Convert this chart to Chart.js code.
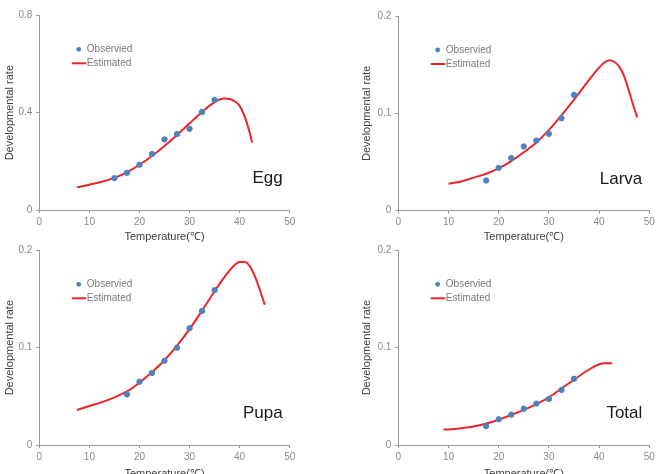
<!DOCTYPE html>
<html>
<head>
<meta charset="utf-8">
<script src="https://cdn.jsdelivr.net/npm/chart.js@4/dist/chart.umd.min.js"></script>
<style>
  html, body { margin: 0; padding: 0; background: #fff; overflow: hidden; }
  #wrap { position: relative; width: 658px; height: 474px; overflow: hidden; }
  .pane { position: absolute; width: 329px; height: 245px; }
  canvas { display: block; }
</style>
</head>
<body>
<div id="wrap">
  <div class="pane" style="left:0;top:0"><canvas id="c0" width="329" height="245"></canvas></div>
  <div class="pane" style="left:329px;top:0"><canvas id="c1" width="329" height="245"></canvas></div>
  <div class="pane" style="left:0;top:237px"><canvas id="c2" width="329" height="245"></canvas></div>
  <div class="pane" style="left:329px;top:237px"><canvas id="c3" width="329" height="245"></canvas></div>
</div>
<script>
// ---------- data ----------
const stageNames = ["Egg", "Larva", "Pupa", "Total"];
const xTitle = "Temperature(\u2103)";
const yTitle = "Developmental rate";
const legendLabels = ["Observied", "Estimated"];
const xTicksMax = 50;
const yMaxes = [0.8, 0.2, 0.2, 0.2];

const obsTemps = [15, 17.5, 20, 22.5, 25, 27.5, 30, 32.5, 35];
const eggObs = [0.131, 0.153, 0.186, 0.230, 0.290, 0.312, 0.334, 0.403, 0.452];
const eggEstX = [7.5, 10, 12.5, 15, 17.5, 20, 22.5, 25, 27.5, 30, 32.5, 35, 36, 37, 38, 39, 40, 41, 42, 42.5];
const eggEstY = [0.093, 0.104, 0.116, 0.132, 0.155, 0.186, 0.222, 0.263, 0.308, 0.356, 0.403, 0.443, 0.454, 0.458, 0.456, 0.447, 0.428, 0.385, 0.318, 0.277];

const larvaTemps = [17.5, 20, 22.5, 25, 27.5, 30, 32.5, 35];
const larvaObs = [0.031, 0.044, 0.054, 0.066, 0.072, 0.079, 0.095, 0.119];
const larvaEstX = [10, 12.5, 15, 17.5, 20, 22.5, 25, 27.5, 30, 32.5, 35, 37.5, 40, 41, 42, 43, 44, 45, 46, 47, 47.6];
const larvaEstY = [0.0277, 0.030, 0.034, 0.038, 0.0435, 0.051, 0.060, 0.070, 0.083, 0.098, 0.114, 0.131, 0.147, 0.152, 0.1545, 0.153, 0.148, 0.138, 0.122, 0.105, 0.096];

const pupaTemps = [17.5, 20, 22.5, 25, 27.5, 30, 32.5, 35];
const pupaObs = [0.052, 0.065, 0.074, 0.0866, 0.100, 0.120, 0.1377, 0.159];
const pupaEstX = [7.5, 10, 12.5, 15, 17.5, 20, 22.5, 25, 27.5, 30, 32.5, 35, 37.5, 39, 40, 41, 42, 43, 44, 45];
const pupaEstY = [0.036, 0.040, 0.044, 0.049, 0.055, 0.064, 0.075, 0.087, 0.102, 0.119, 0.138, 0.158, 0.176, 0.185, 0.188, 0.188, 0.184, 0.174, 0.160, 0.144];

const totalTemps = [17.5, 20, 22.5, 25, 27.5, 30, 32.5, 35];
const totalObs = [0.0195, 0.0264, 0.0312, 0.0373, 0.0425, 0.0473, 0.0565, 0.068];
const totalEstX = [9, 10, 12.5, 15, 17.5, 20, 22.5, 25, 27.5, 30, 32.5, 35, 37.5, 40, 41, 42.6];
const totalEstY = [0.0158, 0.016, 0.0172, 0.019, 0.022, 0.026, 0.031, 0.036, 0.042, 0.049, 0.058, 0.067, 0.076, 0.083, 0.084, 0.084];

// ---------- layout (pixels, per panel) ----------
const panels = [
  { id: "c0", obsX: obsTemps, obsY: eggObs, estX: eggEstX, estY: eggEstY, L: 39.3, R: 289.7, T: 15.3, B: 210, yTitlePad: 3.5 },
  { id: "c1", obsX: larvaTemps, obsY: larvaObs, estX: larvaEstX, estY: larvaEstY, L: 69.3, R: 320.3, T: 16, B: 210.7, yTitlePad: 1.5 },
  { id: "c2", obsX: pupaTemps, obsY: pupaObs, estX: pupaEstX, estY: pupaEstY, L: 39.3, R: 289.7, T: 13.3, B: 208, yTitlePad: 3.5 },
  { id: "c3", obsX: totalTemps, obsY: totalObs, estX: totalEstX, estY: totalEstY, L: 69.3, R: 320.3, T: 13.3, B: 208, yTitlePad: 1.5 }
];

const FONT = "'Liberation Sans', Arial, sans-serif";
const CW = 329, CH = 245, YW = 39;

const overlayPlugin = {
  id: 'overlay',
  afterDraw(chart, args, opts) {
    const ctx = chart.ctx;
    const a = chart.chartArea;
    ctx.save();
    // legend
    ctx.font = "10px " + FONT;
    ctx.textBaseline = "middle";
    ctx.textAlign = "left";
    const ly1 = a.top + 34, ly2 = a.top + 48;
    ctx.beginPath();
    ctx.arc(a.left + 39.4, ly1, 2.4, 0, Math.PI * 2);
    ctx.fillStyle = "#4F81BD";
    ctx.fill();
    ctx.fillStyle = "#7a7a7a";
    ctx.fillText(legendLabels[0], a.left + 47.5, ly1);
    ctx.beginPath();
    ctx.moveTo(a.left + 32.5, ly2);
    ctx.lineTo(a.left + 47, ly2);
    ctx.strokeStyle = "#E8262A";
    ctx.lineWidth = 2;
    ctx.stroke();
    ctx.fillText(legendLabels[1], a.left + 47.5, ly2);
    // stage label
    ctx.font = "17px " + FONT;
    ctx.fillStyle = "#1a1a1a";
    ctx.textAlign = "right";
    ctx.fillText(opts.stage, a.right - 7, a.top + 163);
    ctx.restore();
  }
};

panels.forEach((p, i) => {
  const el = document.getElementById(p.id);
  new Chart(el, {
    type: 'scatter',
    data: {
      datasets: [
        {
          label: legendLabels[0],
          data: p.obsX.map((x, k) => ({ x: x, y: p.obsY[k] })),
          backgroundColor: "#4F81BD",
          borderColor: "#4F81BD",
          pointRadius: 2.7,
          showLine: false,
          order: 0
        },
        {
          label: legendLabels[1],
          data: p.estX.map((x, k) => ({ x: x, y: p.estY[k] })),
          borderColor: "#E8262A",
          backgroundColor: "#E8262A",
          borderWidth: 2,
          pointRadius: 0,
          showLine: true,
          cubicInterpolationMode: 'monotone',
          order: 1
        }
      ]
    },
    options: {
      responsive: false,
      maintainAspectRatio: false,
      animation: false,
      devicePixelRatio: 1,
      layout: { padding: { left: p.L - YW, right: CW - p.R, top: p.T, bottom: 0 } },
      plugins: {
        legend: { display: false },
        tooltip: { enabled: false },
        overlay: { stage: stageNames[i] }
      },
      scales: {
        x: {
          type: 'linear',
          min: 0, max: xTicksMax,
          afterFit(s) { s.height = CH - p.B; },
          ticks: { stepSize: 10, color: "#8a8a8a", font: { family: FONT, size: 10 }, padding: 3, maxRotation: 0 },
          grid: { display: true, drawOnChartArea: false, drawTicks: true, tickLength: 3, color: "#9a9a9a" },
          border: { display: true, color: "#9a9a9a", width: 1 },
          title: { display: true, text: xTitle, color: "#404040", font: { family: FONT, size: 11 }, padding: { top: 0, bottom: 1 } }
        },
        y: {
          type: 'linear',
          min: 0, max: yMaxes[i],
          afterFit(s) { s.width = YW; },
          ticks: { stepSize: yMaxes[i] / 2, color: "#8a8a8a", font: { family: FONT, size: 10 }, padding: 4 },
          grid: { display: true, drawOnChartArea: false, drawTicks: true, tickLength: 3, color: "#9a9a9a" },
          border: { display: true, color: "#9a9a9a", width: 1 },
          title: { display: true, text: yTitle, color: "#404040", font: { family: FONT, size: 11 }, padding: { top: p.yTitlePad, bottom: 0 } }
        }
      }
    },
    plugins: [overlayPlugin]
  });
});
</script>
</body>
</html>
